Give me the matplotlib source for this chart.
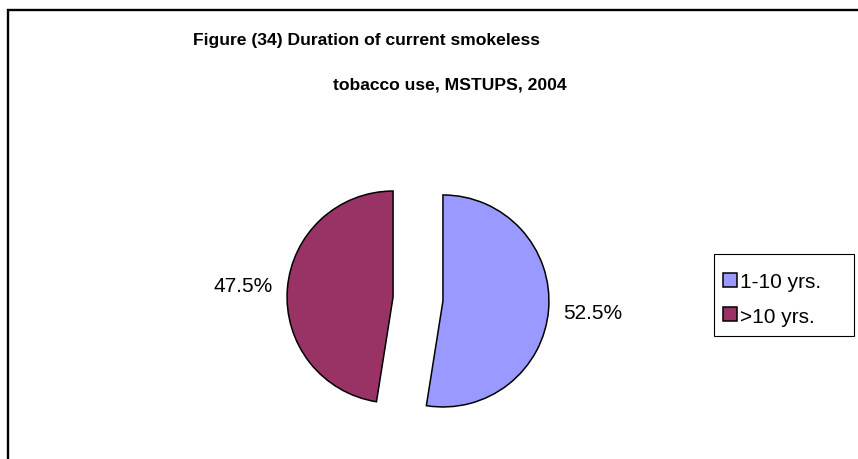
import matplotlib
matplotlib.use("Agg")
import matplotlib.pyplot as plt
from matplotlib.patches import Rectangle

plt.rcParams['font.family'] = ['Liberation Sans', 'DejaVu Sans']

categories = ["1-10 yrs.", ">10 yrs."]
values = [52.5, 47.5]
colors = ["#9999FF", "#993366"]
title_line1 = "Figure (34) Duration of current smokeless"
title_line2 = "tobacco use, MSTUPS, 2004"

W, H = 858, 460
fig = plt.figure(figsize=(W / 100, H / 100), dpi=100)

# outer border (right and bottom edges run off the picture)
fig.patches.append(Rectangle((8 / W, -0.2), 1.5, 1 - 11 / H + 0.2,
                             transform=fig.transFigure, fill=False,
                             edgecolor="black", linewidth=1.7))

ax = fig.add_axes([0, 0, 1, 1])
R = 106.0
cx, cy = 418.0, 300.0
wedges, texts, autotexts = ax.pie(
    values, colors=colors, startangle=90, counterclock=False,
    explode=[0.236, 0.236], autopct='%1.1f%%', pctdistance=1.42,
    wedgeprops=dict(edgecolor="black", linewidth=1.1),
    textprops=dict(fontsize=15, color="black"))
ax.set_xlim(-cx / R, (W - cx) / R)
ax.set_ylim(-(H - cy) / R, cy / R)
ax.set_aspect('equal', adjustable='box')
ax.axis('off')

fig.text(366.5 / W, 1 - 41 / H, title_line1, ha='center', va='center',
         fontsize=12.6, fontweight='bold')
fig.text(450 / W, 1 - 85 / H, title_line2, ha='center', va='center',
         fontsize=12.6, fontweight='bold')

# legend frame
fig.patches.append(Rectangle((714 / W, 1 - 337 / H), 140 / W, 82 / H,
                             transform=fig.transFigure, fill=True,
                             facecolor="white", edgecolor="black",
                             linewidth=0.8, zorder=2))
leg = fig.legend(wedges, categories, loc='upper left',
                 bbox_to_anchor=(723 / W, 1 - 273 / H),
                 fontsize=15, frameon=False,
                 handlelength=0.65, handleheight=0.65, handletextpad=0.15,
                 labelspacing=0.75, borderpad=0, borderaxespad=0)
leg.set_zorder(3)

fig.savefig("out.png", dpi=100)
